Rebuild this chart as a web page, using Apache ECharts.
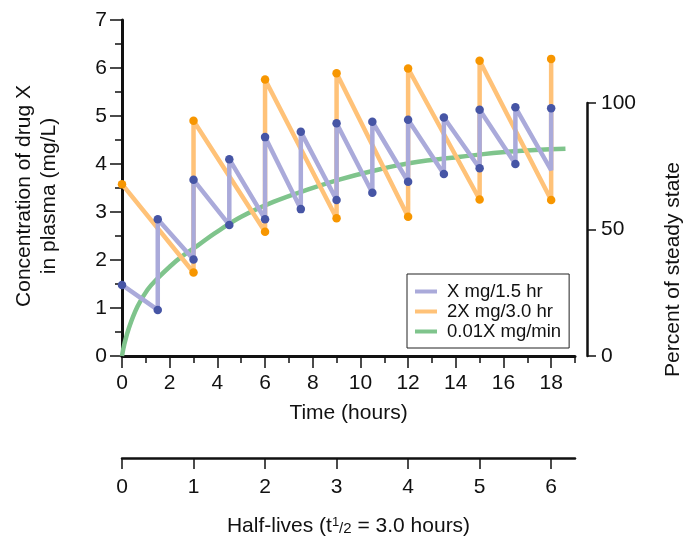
<!DOCTYPE html>
<html><head><meta charset="utf-8">
<script src="https://cdn.jsdelivr.net/npm/echarts@6/dist/echarts.min.js"></script>
<style>html,body{margin:0;padding:0;background:#fff}#c{width:692px;height:543px}</style>
</head><body><div id="c"></div>
<script>
// Tick values
const timeMajorTicks = [0, 2, 4, 6, 8, 10, 12, 14, 16, 18];
const timeMinorTicks = [1, 3, 5, 7, 9, 11, 13, 15, 17, 19];
const halfLifeTicks = [0, 1, 2, 3, 4, 5, 6];
const pctTicks = [0, 50, 100];

// X mg / 1.5 hr (sawtooth: trough then peak at each dose time)
const blueTime = [0, 1.5, 1.5, 3, 3, 4.5, 4.5, 6, 6, 7.5, 7.5, 9, 9, 10.5, 10.5, 12, 12, 13.5, 13.5, 15, 15, 16.5, 16.5, 18, 18];
const blueConc = [1.48, 0.96, 2.85, 2.01, 3.67, 2.73, 4.10, 2.85, 4.56, 3.06, 4.67, 3.25, 4.85, 3.40, 4.88, 3.63, 4.92, 3.79, 4.97, 3.91, 5.13, 4.00, 5.18, 3.87, 5.16];
const blueNoMarker = [23];

// 2X mg / 3.0 hr
const orangeTime = [0, 3, 3, 6, 6, 9, 9, 12, 12, 15, 15, 18, 18];
const orangeConc = [3.58, 1.74, 4.90, 2.59, 5.76, 2.87, 5.89, 2.90, 5.99, 3.26, 6.15, 3.25, 6.19];

// 0.01X mg/min continuous infusion
const greenTime = [0, 0.1, 0.3, 0.65, 1.07, 1.5, 2.0, 2.5, 3.2, 3.9, 5.0, 6.35, 7.75, 9.15, 10.55, 12.1, 14.2, 16.3, 18.6];
const greenConc = [0, 0.25, 0.6, 1.03, 1.38, 1.62, 1.86, 2.07, 2.31, 2.56, 2.9, 3.21, 3.46, 3.68, 3.86, 4.02, 4.15, 4.26, 4.32];

const FONT = 'Liberation Sans, Arial, Helvetica, sans-serif';
const C_BLUE_LINE = '#aaaada', C_BLUE_DOT = '#4655a5';
const C_OR_LINE = '#ffc278', C_OR_DOT = '#f79600';
const C_GREEN = '#7fc48c';

const pair = (t, c) => t.map((v, i) => [v, c[i]]);
const blueData = blueTime.map((t, i) => blueNoMarker.includes(i)
  ? { value: [t, blueConc[i]], symbol: 'none' } : [t, blueConc[i]]);

const chart = echarts.init(document.getElementById('c'));
chart.setOption({
  animation: false,
  textStyle: { fontFamily: FONT },
  grid: [
    { left: 122, right: 117, top: 20, bottom: 187 },
    { left: 122, right: 96, top: 103, bottom: 187 },
    { left: 122, right: 117, top: 440, bottom: 85 }
  ],
  xAxis: [
    { gridIndex: 0, type: 'value', min: 0, max: 19, interval: 2, position: 'bottom',
      axisLine: { show: true, onZero: false, lineStyle: { color: '#111', width: 3 } },
      axisTick: { show: true, length: 12, lineStyle: { color: '#111', width: 1.5 }, customValues: timeMajorTicks },
      axisLabel: { fontSize: 21, color: '#111', margin: 17, fontFamily: FONT, customValues: timeMajorTicks },
      splitLine: { show: false },
      name: 'Time (hours)', nameLocation: 'middle', nameGap: 47,
      nameTextStyle: { fontSize: 21, color: '#111', fontFamily: FONT } },
    { gridIndex: 0, type: 'value', min: 0, max: 19, interval: 1, position: 'bottom',
      axisLine: { show: false, onZero: false },
      axisTick: { show: true, length: 7, lineStyle: { color: '#111', width: 1.5 }, customValues: timeMinorTicks },
      axisLabel: { show: false }, splitLine: { show: false } },
    { gridIndex: 1, type: 'value', min: 0, max: 1, show: false },
    { gridIndex: 2, type: 'value', min: 0, max: 19 / 3, interval: 1, position: 'bottom',
      axisLine: { show: true, onZero: false, lineStyle: { color: '#111', width: 2.5 } },
      axisTick: { show: true, length: 11, lineStyle: { color: '#111', width: 1.5 }, customValues: halfLifeTicks },
      axisLabel: { fontSize: 21, color: '#111', margin: 19, fontFamily: FONT, customValues: halfLifeTicks },
      splitLine: { show: false },
      name: 'Half-lives (t{sup|1}{sm|/2} = 3.0 hours)', nameLocation: 'middle', nameGap: 58,
      nameTextStyle: { fontSize: 21, color: '#111', fontFamily: FONT,
        rich: { sup: { fontSize: 13, verticalAlign: 'top', padding: [0, 0, 8, 0], fontFamily: FONT, color: '#111' },
                sm: { fontSize: 15, fontFamily: FONT, color: '#111', padding: [4, 0, 0, 0] } } } }
  ],
  yAxis: [
    { gridIndex: 0, type: 'value', min: 0, max: 7, interval: 1,
      axisLine: { show: true, onZero: false, lineStyle: { color: '#111', width: 3 } },
      axisTick: { show: true, length: 12, lineStyle: { color: '#111', width: 1.5 } },
      minorTick: { show: true, splitNumber: 2, length: 7, lineStyle: { color: '#111', width: 1.5 } },
      axisLabel: { fontSize: 21, color: '#111', margin: 15, fontFamily: FONT },
      splitLine: { show: false }, minorSplitLine: { show: false },
      name: 'Concentration of drug X\nin plasma (mg/L)', nameLocation: 'middle', nameGap: 60,
      nameTextStyle: { fontSize: 21, color: '#111', lineHeight: 25, fontFamily: FONT, padding: [0, 16, 0, 0] } },
    { gridIndex: 1, type: 'value', min: 0, max: 100, interval: 50, position: 'right',
      axisLine: { show: true, onZero: false, lineStyle: { color: '#111', width: 2.5 } },
      axisTick: { show: true, length: 9, lineStyle: { color: '#111', width: 1.5 }, customValues: pctTicks },
      axisLabel: { fontSize: 21, color: '#111', margin: 14, fontFamily: FONT, customValues: pctTicks },
      splitLine: { show: false },
      name: 'Percent of steady state', nameLocation: 'middle', nameGap: 76, nameRotate: 90,
      nameTextStyle: { fontSize: 21, color: '#111', fontFamily: FONT, padding: [0, 80, 0, 0] } },
    { gridIndex: 2, type: 'value', min: 0, max: 1, show: false }
  ],
  legend: {
    orient: 'vertical', left: 407, top: 274,
    padding: [8, 8, 7, 8], itemGap: 1,
    itemWidth: 22, itemHeight: 4,
    borderColor: '#222', borderWidth: 1, borderRadius: 0,
    backgroundColor: '#fff',
    textStyle: { fontSize: 18.5, color: '#111', fontFamily: FONT, lineHeight: 19, padding: [0, 0, 0, 5] },
    data: [
      { name: 'X mg/1.5 hr', icon: 'rect', itemStyle: { color: C_BLUE_LINE } },
      { name: '2X mg/3.0 hr', icon: 'rect', itemStyle: { color: C_OR_LINE } },
      { name: '0.01X mg/min', icon: 'rect', itemStyle: { color: C_GREEN } }
    ]
  },
  series: [
    { name: '0.01X mg/min', type: 'line', xAxisIndex: 0, yAxisIndex: 0, z: 2,
      data: pair(greenTime, greenConc), smooth: 0.4, showSymbol: false, symbol: 'none', clip: false,
      lineStyle: { color: C_GREEN, width: 4.5 }, itemStyle: { color: C_GREEN } },
    { name: '2X mg/3.0 hr', type: 'line', xAxisIndex: 0, yAxisIndex: 0, z: 3,
      data: pair(orangeTime, orangeConc), symbol: 'circle', symbolSize: 8.5, clip: false,
      lineStyle: { color: C_OR_LINE, width: 4.5 },
      itemStyle: { color: C_OR_DOT, borderWidth: 0 } },
    { name: 'X mg/1.5 hr', type: 'line', xAxisIndex: 0, yAxisIndex: 0, z: 4,
      data: blueData, symbol: 'circle', symbolSize: 8.5, clip: false,
      lineStyle: { color: C_BLUE_LINE, width: 4.5 },
      itemStyle: { color: C_BLUE_DOT, borderWidth: 0 } }
  ]
});
</script>
</body></html>
